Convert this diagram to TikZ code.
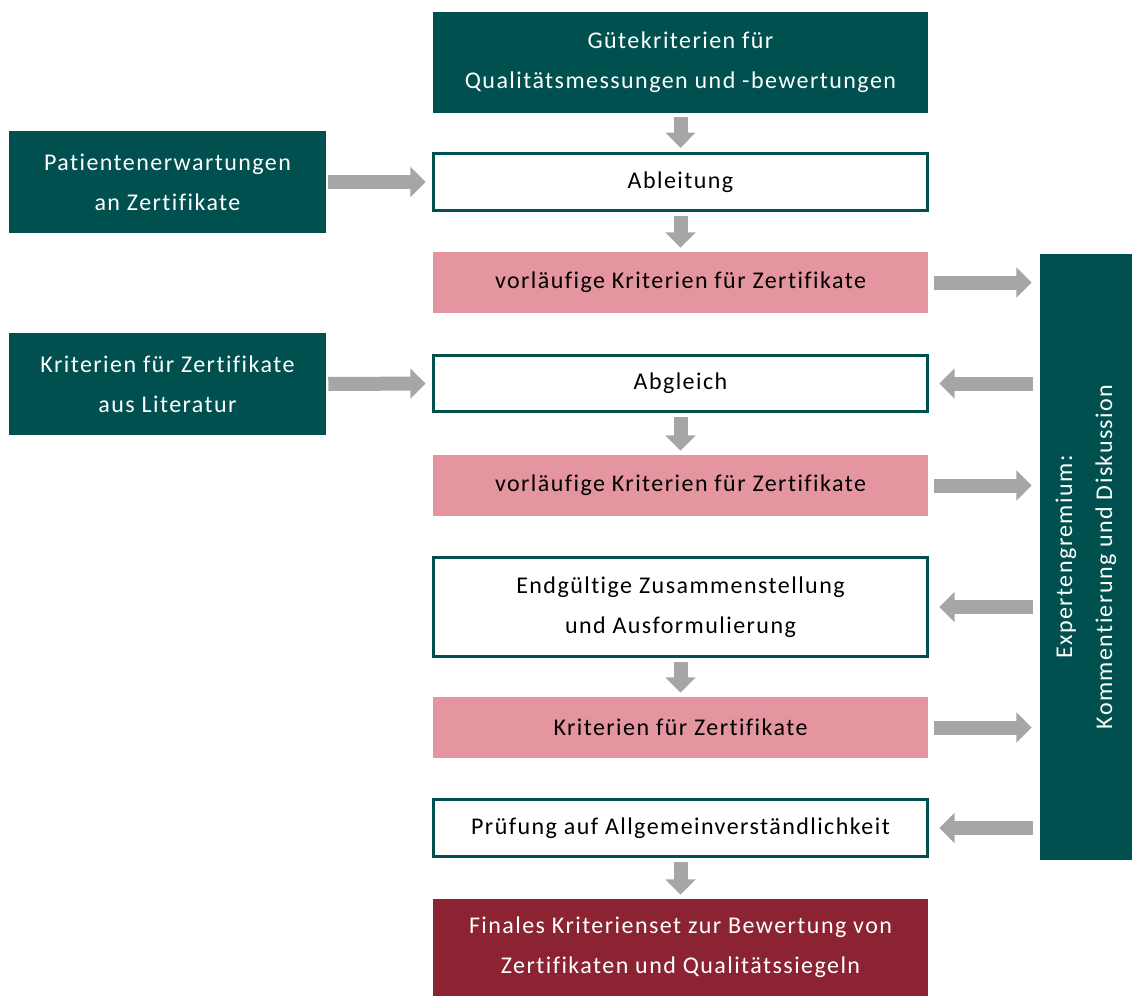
\documentclass[tikz,border=0pt]{standalone}
\usepackage{fontspec}
\setmainfont{Carlito}[LetterSpace=6,Ligatures=NoCommon]
\usetikzlibrary{arrows.meta,positioning}
\definecolor{teal}{RGB}{0,80,80}
\definecolor{rose}{RGB}{228,149,160}
\definecolor{wine}{RGB}{139,35,51}
\definecolor{arrowgray}{RGB}{166,166,166}
\tikzset{
  box/.style={inner sep=0pt, minimum width=371pt, align=center,
    font=\fontsize{18}{30}\selectfont},
  darkbox/.style={box, fill=teal, text=white},
  whitebox/.style={box, fill=white, draw=teal, line width=2.2pt},
  rosebox/.style={box, fill=rose, text=black},
  winebox/.style={box, fill=wine, text=white},
  garrow/.style={draw=arrowgray, line width=10.5pt,
    -{Triangle[width=22pt,length=11.5pt]}}
}
\begin{document}
\begin{tikzpicture}[x=0.75pt,y=-0.75pt]
        \useasboundingbox (0,0) rectangle (1132,996);

        \node[darkbox, minimum height=75.75pt] (guete) at (680.5,62.5) {Gütekriterien für\\Qualitätsmessungen und -bewertungen};
        \node[whitebox, minimum height=43pt] (ableitung) at (680.5,182) {Ableitung};
        \node[rosebox, minimum height=45.75pt] (vorl1) at (680.5,282.5) {vorläufige Kriterien für Zertifikate};
        \node[whitebox, minimum height=42.5pt] (abgleich) at (680.5,383.5) {Abgleich};
        \node[rosebox, minimum height=45.75pt] (vorl2) at (680.5,485.5) {vorläufige Kriterien für Zertifikate};
        \node[whitebox, minimum height=74.5pt] (endg) at (680.5,607) {Endgültige Zusammenstellung\\und Ausformulierung};
        \node[rosebox, minimum height=45.75pt] (krit) at (680.5,727.5) {Kriterien für Zertifikate};
        \node[whitebox, minimum height=43pt] (pruef) at (680.5,828) {Prüfung auf Allgemeinverständlichkeit};
        \node[winebox, minimum height=72.75pt] (final) at (680.5,947.5) {Finales Kriterienset zur Bewertung von\\Zertifikaten und Qualitätssiegeln};

        \node[darkbox, minimum width=237.75pt, minimum height=76.5pt] (patient) at (167.5,182) {Patientenerwartungen\\an Zertifikate};
        \node[darkbox, minimum width=237.75pt, minimum height=76.5pt] (literatur) at (167.5,384) {Kriterien für Zertifikate\\aus Literatur};

        \node[darkbox, minimum width=454.5pt, minimum height=69pt, rotate=90] (experten) at (1086,557) {Expertengremium:\\Kommentierung und Diskussion};

        \draw[garrow, shorten <=3pt, shorten >=3pt] (guete) -- (ableitung);
        \draw[garrow, shorten <=3pt, shorten >=3pt] (ableitung) -- (vorl1);
        \draw[garrow, shorten <=3pt, shorten >=3pt] (abgleich) -- (vorl2);
        \draw[garrow, shorten <=3pt, shorten >=3pt] (endg) -- (krit);
        \draw[garrow, shorten <=3pt, shorten >=3pt] (pruef) -- (final);

        \draw[garrow, shorten <=1.5pt, shorten >=4.5pt] (patient) -- (ableitung);
        \draw[garrow, shorten <=1.5pt, shorten >=4.5pt] (literatur.east) -- (abgleich.west);

        \draw[garrow, shorten <=4.5pt, shorten >=6pt] (vorl1.east) -- (vorl1.east -| experten.north);
        \draw[garrow, shorten <=4.5pt, shorten >=6pt] (vorl2.east) -- (vorl2.east -| experten.north);
        \draw[garrow, shorten <=4.5pt, shorten >=6pt] (krit.east) -- (krit.east -| experten.north);

        \draw[garrow, shorten <=5.25pt, shorten >=7.5pt] (abgleich.east -| experten.north) -- (abgleich.east);
        \draw[garrow, shorten <=5.25pt, shorten >=7.5pt] (endg.east -| experten.north) -- (endg.east);
        \draw[garrow, shorten <=5.25pt, shorten >=7.5pt] (pruef.east -| experten.north) -- (pruef.east);

        \end{tikzpicture}
\end{document}
